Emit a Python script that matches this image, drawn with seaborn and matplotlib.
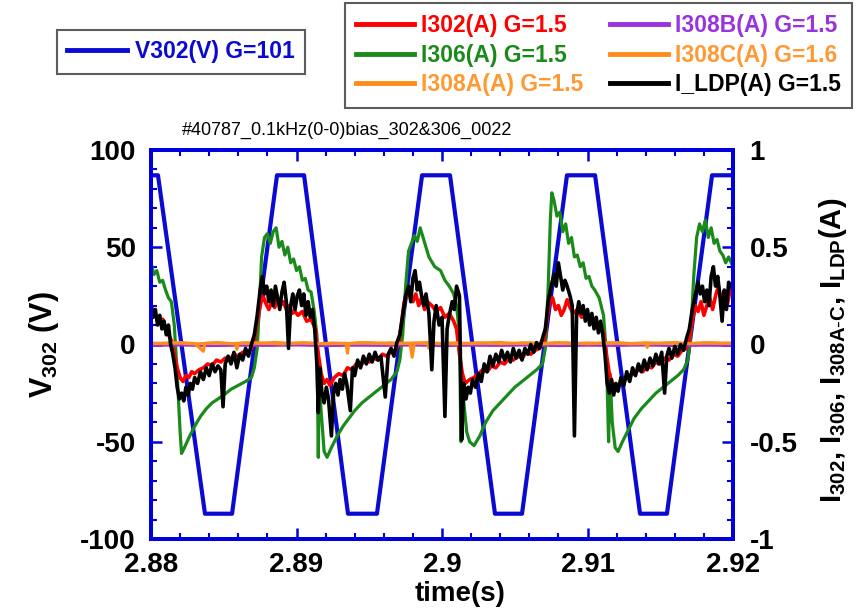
import numpy as np
import matplotlib
matplotlib.use("Agg")
import matplotlib.pyplot as plt
from matplotlib.lines import Line2D
from matplotlib.ticker import FixedLocator, MultipleLocator
from matplotlib.font_manager import FontProperties
import seaborn as sns

plt.rcParams['font.family'] = ['Liberation Sans', 'DejaVu Sans']
plt.rcParams['axes.unicode_minus'] = False
plt.rcParams['mathtext.fontset'] = 'custom'
plt.rcParams['mathtext.rm'] = 'Liberation Sans'
plt.rcParams['mathtext.it'] = 'Liberation Sans'
plt.rcParams['mathtext.bf'] = 'Liberation Sans:bold'
plt.rcParams['mathtext.default'] = 'regular'

# ---------------- data ----------------
T0 = 2.88  # start of window (s); times below are ms after T0

# V302 (V): trapezoidal bias voltage, corners
v302_t_ms = [0.0, 0.48, 3.71, 5.57, 8.66, 10.52, 13.54, 15.53, 18.63, 20.55,
             23.64, 25.50, 28.59, 30.52, 33.61, 35.46, 38.56, 40.0]
v302_v = [87, 87, -87, -87, 87, 87, -87, -87, 87, 87,
          -87, -87, 87, 87, -87, -87, 87, 87]

# I306 (A)
i306_t_ms = [0.0, 0.2, 0.4, 0.6, 0.8, 1.0, 1.2, 1.4, 1.6, 1.8, 2.0, 2.1, 2.3, 2.6,
             3.0, 3.4, 3.8, 4.2, 4.6, 5.0, 5.5, 6.0, 6.5, 6.9, 7.1, 7.3, 7.45, 7.6,
             7.8, 8.0, 8.2, 8.4, 8.6, 8.8, 9.0, 9.2, 9.4, 9.6, 9.8, 10.0, 10.2, 10.4,
             10.6, 10.8, 11.0, 11.2, 11.4, 11.5, 11.55, 11.7, 11.9, 12.1, 12.4, 12.8,
             13.2, 13.6, 14.0, 14.5, 15.0, 15.5, 16.0, 16.5, 16.9, 17.1, 17.3, 17.5,
             17.7, 17.9, 18.1, 18.3, 18.5, 18.7, 18.9, 19.1, 19.5, 19.9, 20.2, 20.5,
             20.8, 21.0, 21.2, 21.3, 21.35, 21.5, 21.7, 21.9, 22.2, 22.6, 23.0, 23.5,
             24.0, 24.5, 25.0, 25.5, 26.0, 26.5, 26.9, 27.1, 27.3, 27.45, 27.55, 27.7,
             27.9, 28.1, 28.3, 28.5, 28.7, 28.9, 29.1, 29.3, 29.5, 29.7, 29.9, 30.1,
             30.3, 30.5, 30.8, 31.1, 31.3, 31.45, 31.55, 31.7, 31.9, 32.1, 32.4, 32.8,
             33.2, 33.7, 34.2, 34.7, 35.2, 35.7, 36.2, 36.6, 36.9, 37.1, 37.3, 37.5,
             37.7, 37.9, 38.1, 38.3, 38.5, 38.7, 38.9, 39.1, 39.3, 39.5, 39.7, 40.0]
i306_a = [0.42, 0.36, 0.38, 0.32, 0.33, 0.28, 0.24, 0.22, 0.10, -0.15, -0.45, -0.56, -0.53, -0.48,
          -0.42, -0.37, -0.33, -0.30, -0.28, -0.26, -0.23, -0.21, -0.19, -0.17, -0.12, -0.02, 0.20, 0.45,
          0.55, 0.57, 0.52, 0.58, 0.60, 0.50, 0.53, 0.46, 0.50, 0.42, 0.44, 0.38, 0.40, 0.33,
          0.34, 0.28, 0.27, 0.18, 0.05, -0.58, -0.20, -0.35, -0.55, -0.58, -0.53, -0.47,
          -0.42, -0.38, -0.34, -0.30, -0.27, -0.24, -0.21, -0.18, -0.14, -0.08, 0.05, 0.30,
          0.48, 0.52, 0.56, 0.53, 0.60, 0.55, 0.50, 0.45, 0.40, 0.38, 0.33, 0.30,
          0.26, 0.20, 0.05, -0.50, -0.15, -0.30, -0.45, -0.50, -0.52, -0.47, -0.40, -0.34,
          -0.30, -0.26, -0.22, -0.19, -0.16, -0.13, -0.10, -0.02, 0.30, 0.65, 0.78, 0.74,
          0.66, 0.68, 0.58, 0.62, 0.52, 0.55, 0.45, 0.46, 0.40, 0.42, 0.34, 0.35,
          0.30, 0.28, 0.24, 0.15, -0.05, -0.50, -0.15, -0.40, -0.53, -0.55, -0.50, -0.44,
          -0.38, -0.33, -0.29, -0.25, -0.22, -0.19, -0.16, -0.13, -0.08, 0.05, 0.35, 0.55,
          0.62, 0.58, 0.64, 0.55, 0.60, 0.52, 0.54, 0.48, 0.46, 0.42, 0.45, 0.40]

# I302 (A)
i302_t_ms = [0.0, 0.3, 0.5, 0.8, 1.0, 1.2, 1.4, 1.6, 1.8, 2.0, 2.2, 2.4, 2.6, 2.8, 3.0, 3.3,
             3.6, 3.9, 4.2, 4.5, 4.8, 5.1, 5.4, 5.7, 6.0, 6.3, 6.6, 6.9, 7.1, 7.3, 7.5, 7.7,
             7.9, 8.1, 8.3, 8.5, 8.7, 8.9, 9.1, 9.3, 9.5, 9.7, 9.9, 10.1, 10.4, 10.7, 11.0,
             11.3, 11.5, 11.7, 11.9, 12.1, 12.3, 12.6, 12.9, 13.2, 13.5, 13.8, 14.1, 14.4,
             14.7, 15.0, 15.3, 15.6, 15.9, 16.2, 16.5, 16.8, 17.0, 17.2, 17.4, 17.6, 17.8,
             18.0, 18.2, 18.4, 18.6, 18.8, 19.0, 19.3, 19.6, 19.9, 20.2, 20.5, 20.8, 21.0,
             21.2, 21.4, 21.6, 21.9, 22.2, 22.5, 22.8, 23.1, 23.4, 23.7, 24.0, 24.3, 24.6,
             24.9, 25.2, 25.5, 25.8, 26.1, 26.4, 26.7, 27.0, 27.2, 27.4, 27.6, 27.8, 28.0,
             28.2, 28.4, 28.6, 28.8, 29.0, 29.3, 29.6, 29.9, 30.2, 30.5, 30.8, 31.1, 31.3,
             31.5, 31.7, 32.0, 32.3, 32.6, 32.9, 33.2, 33.5, 33.8, 34.1, 34.4, 34.7, 35.0,
             35.3, 35.6, 35.9, 36.2, 36.5, 36.8, 37.0, 37.2, 37.4, 37.6, 37.8, 38.0, 38.2,
             38.4, 38.6, 38.8, 39.0, 39.2, 39.4, 39.6, 39.8, 40.0]
i302_a = [0.20, 0.15, 0.12, 0.13, 0.08, 0.05, 0.02, -0.05, -0.12, -0.17, -0.19, -0.16, -0.17, -0.14, -0.15, -0.13,
          -0.12, -0.10, -0.11, -0.08, -0.09, -0.07, -0.08, -0.05, -0.06, -0.04, -0.05, -0.02, 0.02, 0.12, 0.20, 0.25,
          0.21, 0.18, 0.22, 0.19, 0.24, 0.20, 0.22, 0.18, 0.20, 0.16, 0.17, 0.15, 0.17, 0.12, 0.13,
          0.08, -0.05, -0.15, -0.20, -0.18, -0.21, -0.17, -0.15, -0.16, -0.12, -0.13, -0.10, -0.11,
          -0.08, -0.09, -0.07, -0.08, -0.05, -0.06, -0.04, -0.03, 0.00, 0.10, 0.22, 0.25, 0.28,
          0.22, 0.26, 0.20, 0.24, 0.18, 0.22, 0.20, 0.17, 0.19, 0.14, 0.16, 0.12, 0.08,
          -0.05, -0.15, -0.20, -0.18, -0.17, -0.15, -0.13, -0.14, -0.11, -0.12, -0.09, -0.10, -0.07,
          -0.08, -0.06, -0.07, -0.04, -0.05, -0.03, -0.02, 0.02, 0.12, 0.22, 0.24, 0.18, 0.20,
          0.15, 0.18, 0.23, 0.19, 0.16, 0.18, 0.14, 0.16, 0.12, 0.13, 0.10, 0.06, -0.05,
          -0.15, -0.20, -0.22, -0.19, -0.18, -0.16, -0.15, -0.13, -0.14, -0.11, -0.12, -0.09, -0.10,
          -0.07, -0.08, -0.05, -0.06, -0.03, -0.02, 0.03, 0.12, 0.20, 0.17, 0.22, 0.15, 0.20,
          0.24, 0.18, 0.25, 0.30, 0.22, 0.26, 0.20, 0.28, 0.25]

# I_LDP (A)
ildp_t_ms = [0.0, 0.15, 0.3, 0.45, 0.6, 0.75, 0.9, 1.05, 1.2, 1.35, 1.5, 1.65, 1.8, 1.95, 2.1, 2.25,
             2.4, 2.55, 2.7, 2.85, 3.0, 3.2, 3.4, 3.6, 3.8, 4.0, 4.2, 4.4, 4.6, 4.8, 4.95, 5.1,
             5.3, 5.5, 5.7, 5.9, 6.1, 6.3, 6.5, 6.7, 6.9, 7.1, 7.3, 7.5, 7.65, 7.8, 7.95, 8.1,
             8.25, 8.4, 8.55, 8.7, 8.85, 9.0, 9.15, 9.3, 9.45, 9.6, 9.75, 9.9, 10.05, 10.2,
             10.35, 10.5, 10.65, 10.8, 10.95, 11.1, 11.25, 11.4, 11.5, 11.6, 11.75, 11.9,
             12.05, 12.2, 12.4, 12.55, 12.7, 12.85, 13.0, 13.15, 13.3, 13.45, 13.7, 13.85,
             14.0, 14.2, 14.4, 14.6, 14.8, 15.0, 15.2, 15.4, 15.6, 15.8, 16.1, 16.3, 16.5,
             16.7, 16.9, 17.1, 17.3, 17.5, 17.7, 17.85, 18.0, 18.15, 18.3, 18.45, 18.6,
             18.75, 18.9, 19.1, 19.3, 19.45, 19.6, 19.8, 20.0, 20.2, 20.35, 20.5, 20.7,
             20.85, 21.0, 21.2, 21.35, 21.5, 21.65, 21.8, 21.95, 22.1, 22.3, 22.5, 22.7,
             22.9, 23.1, 23.3, 23.5, 23.7, 23.9, 24.1, 24.3, 24.5, 24.7, 24.9, 25.1, 25.3,
             25.5, 25.7, 25.9, 26.1, 26.3, 26.5, 26.7, 26.9, 27.1, 27.3, 27.5, 27.7, 27.85,
             28.0, 28.15, 28.3, 28.45, 28.6, 28.8, 28.95, 29.1, 29.25, 29.4, 29.55, 29.7,
             29.85, 30.0, 30.15, 30.3, 30.45, 30.6, 30.75, 30.9, 31.05, 31.2, 31.35, 31.5,
             31.65, 31.8, 31.95, 32.1, 32.3, 32.5, 32.7, 32.9, 33.1, 33.3, 33.5, 33.7, 33.9,
             34.1, 34.3, 34.5, 34.7, 34.9, 35.1, 35.3, 35.45, 35.6, 35.8, 36.0, 36.2, 36.4,
             36.6, 36.8, 37.0, 37.2, 37.4, 37.6, 37.75, 37.9, 38.05, 38.2, 38.35, 38.5,
             38.65, 38.8, 38.95, 39.1, 39.25, 39.4, 39.55, 39.7, 39.85, 40.0]
ildp_a = [0.20, 0.14, 0.18, 0.10, 0.15, 0.08, 0.12, 0.05, 0.10, 0.00, -0.05, -0.12, -0.22, -0.28, -0.25, -0.29,
          -0.22, -0.26, -0.20, -0.23, -0.17, -0.20, -0.14, -0.18, -0.12, -0.16, -0.10, -0.14, -0.11, -0.13, -0.32, -0.10,
          -0.06, -0.10, -0.04, -0.12, -0.05, -0.08, -0.02, -0.06, 0.00, 0.05, 0.15, 0.28, 0.35, 0.26, 0.30, 0.22,
          0.28, 0.20, 0.30, 0.24, 0.18, 0.27, 0.32, 0.22, -0.02, 0.20, 0.26, 0.18, 0.25, 0.28,
          0.20, 0.26, 0.15, 0.22, 0.14, 0.18, 0.08, -0.10, -0.35, -0.12, -0.25, -0.30,
          -0.22, -0.28, -0.47, -0.25, -0.20, -0.26, -0.18, -0.23, -0.15, -0.20, -0.34, -0.12,
          -0.16, -0.08, -0.12, -0.06, -0.10, -0.05, -0.09, -0.04, -0.08, -0.06, -0.27, -0.05, -0.02,
          -0.06, 0.01, 0.05, 0.15, 0.25, 0.30, 0.22, 0.34, 0.38, 0.28, 0.32, 0.25,
          0.20, 0.26, 0.16, -0.13, 0.12, 0.20, 0.10, 0.14, -0.37, 0.08, 0.15, 0.22,
          0.18, 0.30, 0.25, -0.49, -0.20, -0.28, -0.22, -0.25, -0.18, -0.22, -0.15, -0.19,
          -0.10, -0.14, -0.06, -0.11, -0.05, -0.09, -0.03, -0.08, -0.04, -0.09, -0.02, -0.07, -0.03,
          -0.08, -0.02, -0.05, 0.00, -0.04, 0.01, -0.02, 0.03, 0.08, 0.22, 0.30, 0.36, 0.30,
          0.42, 0.35, 0.28, 0.33, 0.30, 0.25, 0.20, -0.47, 0.15, 0.22, 0.16, 0.20,
          0.12, 0.18, 0.10, 0.16, 0.08, 0.14, 0.06, 0.12, 0.05, -0.05, -0.20, -0.25,
          -0.18, -0.26, -0.20, -0.24, -0.17, -0.21, -0.14, -0.19, -0.12, -0.16, -0.10, -0.14, -0.08,
          -0.13, -0.07, -0.11, -0.05, -0.10, -0.04, -0.25, -0.06, -0.02, -0.07, -0.01, -0.05, 0.00,
          -0.03, 0.03, 0.08, 0.18, 0.25, 0.32, 0.26, 0.30, 0.22, 0.28, 0.20, 0.35,
          0.40, 0.30, 0.35, 0.25, 0.12, 0.28, 0.18, 0.32, 0.30, 0.28]

# I308A / I308B / I308C (A): near zero
i308a_t_ms = [0.0, 1.0, 2.0, 3.0, 3.6, 3.7, 4.5, 5.5, 6.5, 7.5, 8.5, 9.5, 10.5, 11.5, 12.5,
              13.5, 14.5, 15.5, 16.5, 17.8, 17.95, 18.1, 19.0, 20.0, 21.0, 22.0, 23.0, 24.0,
              25.0, 26.0, 27.0, 28.0, 29.0, 30.0, 31.0, 32.0, 33.0, 34.0, 35.0, 36.0, 37.0,
              38.0, 39.0, 40.0]
i308a_a = [0.008, 0.004, 0.010, 0.005, -0.035, 0.006, 0.010, 0.004, 0.009, 0.005, 0.011, 0.006, 0.009, 0.004, 0.008,
           0.005, 0.010, 0.006, 0.009, 0.005, -0.065, 0.007, 0.010, 0.005, 0.009, 0.004, 0.008, 0.011,
           0.005, 0.009, 0.006, 0.010, 0.004, 0.008, 0.006, 0.010, 0.005, 0.009, 0.006, 0.010, 0.005,
           0.009, 0.006, 0.008]
i308b_t_ms = [0.0, 2.0, 4.0, 6.0, 8.0, 10.0, 12.0, 14.0, 16.0, 18.0, 20.0, 22.0, 24.0, 26.0,
              28.0, 30.0, 32.0, 34.0, 36.0, 38.0, 40.0]
i308b_a = [-0.006, -0.004, -0.007, -0.005, -0.006, -0.004, -0.007, -0.005, -0.006, -0.004, -0.007,
           -0.005, -0.006, -0.004, -0.007, -0.005, -0.006, -0.004, -0.007, -0.005, -0.006]
i308c_t_ms = [0.0, 1.5, 3.0, 4.5, 5.8, 5.9, 6.0, 7.5, 9.0, 10.5, 12.0, 13.4, 13.5, 13.6, 15.0,
              16.5, 18.0, 19.0, 19.1, 19.2, 21.0, 22.5, 24.0, 25.5, 27.0, 28.5, 30.0, 31.5, 33.0,
              34.0, 34.1, 34.2, 35.5, 37.0, 38.5, 40.0]
i308c_a = [0.004, 0.009, 0.003, 0.008, 0.004, -0.025, 0.005, 0.009, 0.003, 0.008, 0.004, 0.006, -0.045, 0.005, 0.009,
           0.004, 0.008, 0.005, -0.020, 0.006, 0.003, 0.009, 0.004, 0.008, 0.003, 0.009, 0.004, 0.008, 0.003,
           0.006, -0.015, 0.005, 0.008, 0.004, 0.009, 0.005]

x_ticks = [2.88, 2.89, 2.90, 2.91, 2.92]
x_tick_labels = ['2.88', '2.89', '2.9', '2.91', '2.92']
yl_ticks = [-100, -50, 0, 50, 100]
yl_tick_labels = ['-100', '-50', '0', '50', '100']
yr_ticks = [-1, -0.5, 0, 0.5, 1]
yr_tick_labels = ['-1', '-0.5', '0', '0.5', '1']

# ---------------- style ----------------
BLUE = '#0a0ad2'
SPINE = '#0000dd'
RED = '#ff0000'
GREEN = '#1a8a1a'
ORANGE = '#ff8c1a'
ORANGE_TXT = '#ff9933'
PURPLE = '#9933dd'
BLACK = '#000000'

W, H = 865, 609
fig = plt.figure(figsize=(W / 100, H / 100), dpi=100)
L, R, T, B = 151, 733, 150, 539
ax1 = fig.add_axes([L / W, 1 - B / H, (R - L) / W, (B - T) / H])
ax2 = ax1.twinx()

def tt(ms):
    return T0 + np.asarray(ms) / 1000.0

kw = dict(estimator=None, sort=False, legend=False)
sns.lineplot(x=tt(v302_t_ms), y=v302_v, ax=ax1, color=BLUE, lw=3.0, **kw)

sns.lineplot(x=tt(i306_t_ms), y=i306_a, ax=ax2, color=GREEN, lw=2.3, **kw)
sns.lineplot(x=tt(i302_t_ms), y=i302_a, ax=ax2, color=RED, lw=2.6, **kw)
sns.lineplot(x=tt(i308b_t_ms), y=i308b_a, ax=ax2, color=PURPLE, lw=1.8, **kw)
sns.lineplot(x=tt(i308a_t_ms), y=i308a_a, ax=ax2, color=ORANGE, lw=2.2, **kw)
sns.lineplot(x=tt(i308c_t_ms), y=i308c_a, ax=ax2, color=ORANGE, lw=2.2, **kw)
sns.lineplot(x=tt(ildp_t_ms), y=ildp_a, ax=ax2, color=BLACK, lw=2.6, **kw)

ax1.set_xlim(2.88, 2.92)
ax1.set_ylim(-100, 100)
ax2.set_ylim(-1, 1)

ax1.xaxis.set_major_locator(FixedLocator(x_ticks))
ax1.set_xticklabels(x_tick_labels)
ax1.xaxis.set_minor_locator(MultipleLocator(0.002))
ax1.yaxis.set_major_locator(FixedLocator(yl_ticks))
ax1.set_yticklabels(yl_tick_labels)
ax1.yaxis.set_minor_locator(MultipleLocator(10))
ax2.yaxis.set_major_locator(FixedLocator(yr_ticks))
ax2.set_yticklabels(yr_tick_labels)
ax2.yaxis.set_minor_locator(MultipleLocator(0.1))

for ax in (ax1, ax2):
    for s in ax.spines.values():
        s.set_color(SPINE)
        s.set_linewidth(2.8)
    ax.set_xlabel('')
    ax.set_ylabel('')

ax1.tick_params(axis='both', which='both', direction='in', color=SPINE, top=True, right=False)
ax1.tick_params(which='major', length=8, width=1.8, labelsize=20, pad=11)
ax1.tick_params(axis='x', which='major', pad=9)
ax1.tick_params(which='minor', length=4.5, width=1.5)
ax2.tick_params(axis='y', which='both', direction='in', color=SPINE)
ax2.tick_params(axis='y', which='major', length=8, width=1.8, labelsize=20, pad=12)
ax2.tick_params(axis='y', which='minor', length=4.5, width=1.5)
for lab in ax1.get_xticklabels() + ax1.get_yticklabels() + ax2.get_yticklabels():
    lab.set_fontweight('bold')

# labels
fig.text(44 / W, 1 - 345 / H, r'V$_{302}$ (V)', rotation=90, ha='center', va='center',
         fontsize=22, fontweight='bold')
fig.text(833 / W, 1 - 350 / H,
         r'I$_{302}$, I$_{306}$, I$_{308A\text{-}C}$, I$_{LDP}$(A)',
         rotation=90, ha='center', va='center', fontsize=21, fontweight='bold')
fig.text(460 / W, 1 - 594 / H, 'time(s)', ha='center', va='center', fontsize=20, fontweight='bold')
fig.text(182 / W, 1 - 130 / H, '#40787_0.1kHz(0-0)bias_302&306_0022', ha='left', va='center',
         fontsize=13)

# legends
lp = FontProperties(family='Liberation Sans', weight='bold', size=16.5)
h_v = [Line2D([], [], color=BLUE, lw=3.5)]
leg1 = fig.legend(h_v, ['V302(V) G=101'], loc='upper left',
                  bbox_to_anchor=(57 / W, 1 - 30 / H), bbox_transform=fig.transFigure,
                  frameon=True, fancybox=False, edgecolor='#333333', borderaxespad=0,
                  prop=lp, handlelength=2.6, handletextpad=0.35, borderpad=0.45)
leg1.get_frame().set_linewidth(1.5)
for t in leg1.get_texts():
    t.set_color(BLUE)

names = ['I302(A) G=1.5', 'I306(A) G=1.5', 'I308A(A) G=1.5',
         'I308B(A) G=1.5', 'I308C(A) G=1.6', 'I_LDP(A) G=1.5']
lcols = [RED, GREEN, ORANGE, PURPLE, ORANGE, BLACK]
tcols = [RED, GREEN, ORANGE_TXT, PURPLE, ORANGE_TXT, BLACK]
h2 = [Line2D([], [], color=c, lw=3.5) for c in lcols]
leg2 = fig.legend(h2, names, loc='upper left', ncol=2,
                  bbox_to_anchor=(345 / W, 1 - 3 / H), bbox_transform=fig.transFigure,
                  frameon=True, fancybox=False, edgecolor='#333333', borderaxespad=0,
                  prop=lp, handlelength=2.5, handletextpad=0.3, borderpad=0.5,
                  labelspacing=0.28, columnspacing=1.2)
leg2.get_frame().set_linewidth(1.5)
for t, c in zip(leg2.get_texts(), tcols):
    t.set_color(c)

fig.savefig('out.png', dpi=100, facecolor='white')
